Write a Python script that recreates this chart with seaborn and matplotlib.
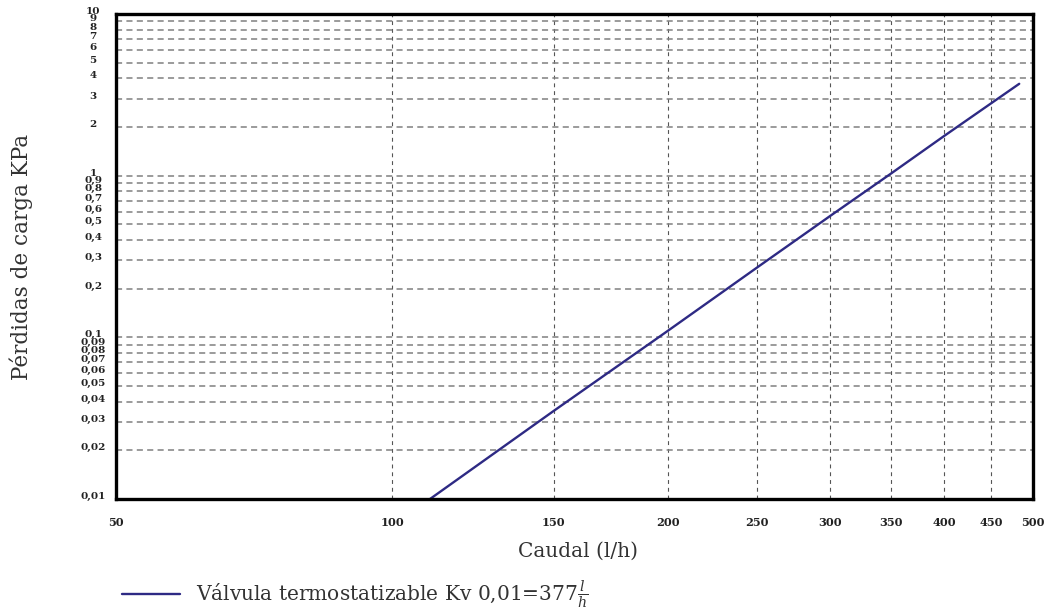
import matplotlib
matplotlib.use("Agg")
import matplotlib.pyplot as plt
import matplotlib.ticker as mticker
from matplotlib.transforms import ScaledTranslation
import numpy as np
import pandas as pd
import seaborn as sns

# valores
caudal = [110, 150, 200, 250, 300, 350, 400, 450, 483]
perdidas = [0.01, 0.035, 0.11, 0.27, 0.56, 1.03, 1.76, 2.8, 3.7]

x_ticks = [50, 100, 150, 200, 250, 300, 350, 400, 450, 500]
x_labels = [str(v) for v in x_ticks]
y_ticks = [0.01, 0.02, 0.03, 0.04, 0.05, 0.06, 0.07, 0.08, 0.09,
           0.1, 0.2, 0.3, 0.4, 0.5, 0.6, 0.7, 0.8, 0.9,
           1, 2, 3, 4, 5, 6, 7, 8, 9, 10]
y_labels = ['0,01', '0,02', '0,03', '0,04', '0,05', '0,06', '0,07', '0,08', '0,09',
            '0,1', '0,2', '0,3', '0,4', '0,5', '0,6', '0,7', '0,8', '0,9',
            '1', '2', '3', '4', '5', '6', '7', '8', '9', '10']
leyenda = r'Válvula termostatizable Kv 0,01=377$\frac{l}{h}$'

sns.set_theme(style="white")
plt.rcParams['font.family'] = ['DejaVu Serif']
plt.rcParams['mathtext.fontset'] = 'dejavuserif'

fig = plt.figure(figsize=(10.44, 6.10), dpi=100)
ax = fig.add_axes([116/1044, 1 - 499/610, (1033 - 116)/1044, (499 - 14)/610])

df = pd.DataFrame({'Caudal': caudal, 'Perdidas': perdidas})
sns.lineplot(data=df, x='Caudal', y='Perdidas', ax=ax, color='#2e2a84',
             linewidth=1.7, label=leyenda)

ax.set_xscale('log')
ax.set_yscale('log')
ax.set_xlim(50, 500)
ax.set_ylim(0.01, 10)

ax.xaxis.set_major_locator(mticker.FixedLocator(x_ticks))
ax.xaxis.set_minor_locator(mticker.NullLocator())
ax.set_xticklabels(x_labels)
ax.yaxis.set_major_locator(mticker.FixedLocator(y_ticks))
ax.yaxis.set_minor_locator(mticker.NullLocator())
ax.set_yticklabels(y_labels)

ax.tick_params(axis='x', length=0, labelsize=8.2, pad=13, labelcolor='#222222')
ax.tick_params(axis='y', length=0, labelsize=7.5, pad=16.5, labelcolor='#222222')
for lab in ax.get_xticklabels():
    lab.set_fontweight('bold')
offset = ScaledTranslation(0, 2.5/72, fig.dpi_scale_trans)
for lab in ax.get_yticklabels():
    lab.set_fontweight('bold')
    lab.set_horizontalalignment('center')
    lab.set_transform(lab.get_transform() + offset)

ax.set_axisbelow(True)
ax.xaxis.grid(True, color='#555555', linestyle=(0, (3.5, 3.5)), linewidth=0.8)
ax.yaxis.grid(True, color='#808080', linestyle=(0, (4, 2.8)), linewidth=1.1)

for s in ax.spines.values():
    s.set_color('black')
    s.set_linewidth(2.4)

ax.set_xlabel('Caudal (l/h)', fontsize=14.5, color='#333333')
ax.xaxis.set_label_coords(0.504, -0.089)
ax.set_ylabel('Pérdidas de carga KPa', fontsize=15.5, color='#333333')
ax.yaxis.set_label_coords(-0.091, 0.5)

handles, labels = ax.get_legend_handles_labels()
ax.get_legend().remove()
fig.legend(handles, labels, loc='center left', bbox_to_anchor=(122/1044, 15/610),
           frameon=False, fontsize=14.5, labelcolor='#333333',
           handlelength=2.9, handletextpad=0.75, borderpad=0, borderaxespad=0)

fig.savefig('out.png', dpi=100)
